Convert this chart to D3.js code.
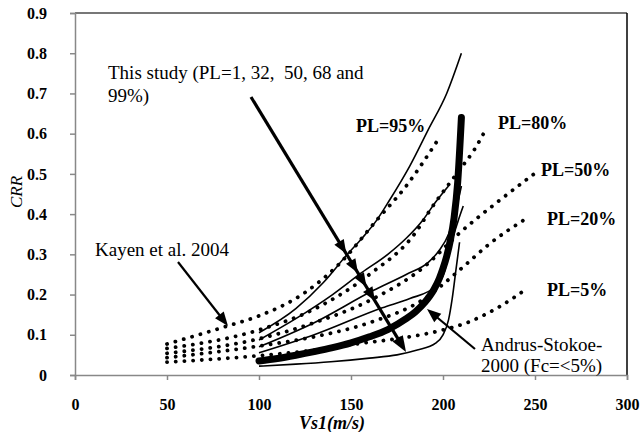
<!DOCTYPE html>
<html><head><meta charset="utf-8">
<script src="https://cdn.jsdelivr.net/npm/d3@7"></script>
<style>body{margin:0;background:#fff}svg{display:block}text{font-family:"Liberation Serif","Times New Roman",serif}</style>
</head><body>
<svg id="c" width="641" height="432"></svg>
<script>
// ---- data ----
const xTicks = [0, 50, 100, 150, 200, 250, 300];
const yTicks = [0, 0.1, 0.2, 0.3, 0.4, 0.5, 0.6, 0.7, 0.8, 0.9];

// Kayen et al. 2004 (dotted)
const kayenNames = ["PL=95%", "PL=80%", "PL=50%", "PL=20%", "PL=5%"];
const kayen95 = [[50,0.077],[83,0.122],[100,0.147],[125,0.205],[144,0.278],[164,0.385],[180,0.47],[198,0.59]];
const kayen80 = [[50,0.066],[100,0.112],[131,0.166],[160,0.25],[186,0.36],[193,0.41],[209,0.51],[217,0.56],[224,0.617]];
const kayen50 = [[50,0.054],[100,0.09],[130,0.13],[160,0.185],[190,0.27],[209,0.353],[229,0.428],[251,0.505]];
const kayen20 = [[50,0.043],[100,0.072],[130,0.095],[160,0.13],[190,0.19],[210,0.265],[225,0.325],[247,0.394]];
const kayen05 = [[50,0.032],[100,0.048],[130,0.062],[154,0.078],[182,0.095],[200,0.112],[213,0.13],[230,0.168],[246,0.216]];

// This study (thin solid) PL = 99, 68, 50, 32, 1 %
const study99 = [[100,0.105],[120,0.165],[135,0.23],[148,0.30],[156,0.34],[164,0.385],[171,0.435],[182,0.52],[192,0.61],[202,0.70],[210,0.80]];
const study68 = [[100,0.087],[120,0.14],[140,0.2],[156,0.255],[170,0.3],[180,0.34],[189,0.385],[196,0.43],[203,0.47]];
const study50 = [[100,0.07],[130,0.13],[162,0.21],[180,0.25],[192,0.28],[198,0.31],[203,0.35],[207,0.41],[210,0.47]];
const study32 = [[100,0.055],[130,0.1],[167,0.167],[182,0.19],[196,0.22],[201,0.26],[204,0.32],[208,0.38],[211,0.42]];
const study01 = [[100,0.022],[120,0.027],[139,0.033],[160,0.042],[175,0.05],[186,0.062],[196,0.079],[200,0.1],[203,0.137],[205,0.19],[207,0.26],[209,0.33]];

// Andrus-Stokoe 2000 (thick)
const andrus = [[100,0.035],[110,0.041],[120,0.049],[130,0.058],[140,0.068],[150,0.08],[160,0.095],[170,0.113],[180,0.14],[185,0.157],[190,0.18],[195,0.212],[198,0.24],[200,0.265],[202,0.295],[204,0.335],[206,0.39],[208,0.48],[210,0.64]];

// ---- layout ----
const svg = d3.select("#c");
const L = 75, R = 627, T = 13, B = 375;
const x = d3.scaleLinear().domain([0, 300]).range([L, R]);
const y = d3.scaleLinear().domain([0, 0.9]).range([B, T]);
const serif = "Liberation Serif, Times New Roman, serif";

// frame
svg.append("line").attr("x1", L).attr("x2", R).attr("y1", T).attr("y2", T)
  .attr("stroke", "#777").attr("stroke-width", 2);
svg.append("line").attr("x1", R).attr("x2", R).attr("y1", T).attr("y2", B)
  .attr("stroke", "#000").attr("stroke-width", 1.5);

// axes
const xAx = svg.append("g").attr("transform", `translate(0,${B})`)
  .call(d3.axisBottom(x).tickValues(xTicks).tickSize(5).tickPadding(19).tickFormat(d3.format("d")));
const yAx = svg.append("g").attr("transform", `translate(${L},0)`)
  .call(d3.axisLeft(y).tickValues(yTicks).tickSize(5).tickPadding(23).tickFormat(d => d === 0 ? "0" : d3.format(".1f")(d)));
[xAx, yAx].forEach(g => {
  g.attr("font-family", null);
  g.select(".domain").attr("stroke", "#888").attr("stroke-width", 1.5);
  g.selectAll(".tick line").attr("stroke", "#888").attr("stroke-width", 1.5);
  g.selectAll("text").style("font-family", serif).style("font-size", "16px").style("font-weight", "bold").attr("fill", "#000");
});

const line = d3.line().x(d => x(d[0])).y(d => y(d[1])).curve(d3.curveMonotoneX);

// Kayen dotted
[kayen95, kayen80, kayen50, kayen20, kayen05].forEach(s => {
  svg.append("path").attr("d", line(s)).attr("fill", "none").attr("stroke", "#000")
    .attr("stroke-width", 3.8).attr("stroke-linecap", "round").attr("stroke-dasharray", "0.1 8.6");
});

// This study thin
[study99, study68, study50, study32, study01].forEach(s => {
  svg.append("path").attr("d", line(s)).attr("fill", "none").attr("stroke", "#000").attr("stroke-width", 1.6);
});

// Andrus thick
svg.append("path").attr("d", line(andrus)).attr("fill", "none").attr("stroke", "#000")
  .attr("stroke-width", 7).attr("stroke-linecap", "round").attr("stroke-linejoin", "round");

// arrows
function head(x1, y1, x2, y2, len, w) {
  const a = Math.atan2(y2 - y1, x2 - x1);
  const p = [[x2, y2],
    [x2 - len * Math.cos(a) + w * Math.sin(a), y2 - len * Math.sin(a) - w * Math.cos(a)],
    [x2 - len * Math.cos(a) - w * Math.sin(a), y2 - len * Math.sin(a) + w * Math.cos(a)]];
  svg.append("polygon").attr("points", p.map(q => q.join(",")).join(" ")).attr("fill", "#000");
}
function arrow(x1, y1, x2, y2, sw, len, w) {
  const a = Math.atan2(y2 - y1, x2 - x1);
  svg.append("line").attr("x1", x1).attr("y1", y1)
    .attr("x2", x2 - len * 0.7 * Math.cos(a)).attr("y2", y2 - len * 0.7 * Math.sin(a))
    .attr("stroke", "#000").attr("stroke-width", sw);
  head(x1, y1, x2, y2, len, w);
}
// This study arrow (one head per curve)
const sx = 251, sy = 97, ex = 406, ey = 352;
arrow(sx, sy, ex, ey, 3.2, 16, 6);
[0.615, 0.69, 0.745, 0.8].forEach(t => head(sx, sy, sx + (ex - sx) * t, sy + (ey - sy) * t, 14, 5.5));
// Kayen arrow
arrow(178, 262, 228, 326, 2.2, 14, 5.5);
// Andrus arrow
arrow(475, 349, 427, 309, 2.2, 14, 5.5);

// texts
function txt(s, tx, ty, size, weight, style) {
  svg.append("text").attr("x", tx).attr("y", ty).text(s).style("font-family", serif)
    .style("font-size", size + "px").style("font-weight", weight || "normal").style("font-style", style || "normal")
    .attr("fill", "#000").style("white-space", "pre");
}
txt("This study (PL=1, 32,  50, 68 and", 108, 79, 19);
txt("99%)", 108, 102, 19);
txt("Kayen et al. 2004", 95, 256, 19);
txt("Andrus-Stokoe-", 481, 351, 19);
txt("2000 (Fc=<5%)", 481, 372, 19);
const plPos = [[356, 132], [498, 129], [541, 176], [547, 225], [547, 296]];
kayenNames.forEach((n, i) => txt(n, plPos[i][0], plPos[i][1], 18, "bold"));

// axis titles
svg.append("text").attr("x", 332).attr("y", 429).attr("text-anchor", "middle").text("Vs1(m/s)")
  .style("font-family", serif).style("font-size", "18px").style("font-weight", "bold").style("font-style", "italic").attr("fill", "#000");
svg.append("text").attr("transform", "translate(22,192) rotate(-90)").attr("text-anchor", "middle")
  .text("CRR").style("font-family", serif).style("font-size", "17px").style("font-style", "italic").attr("fill", "#000");
</script>
</body></html>
